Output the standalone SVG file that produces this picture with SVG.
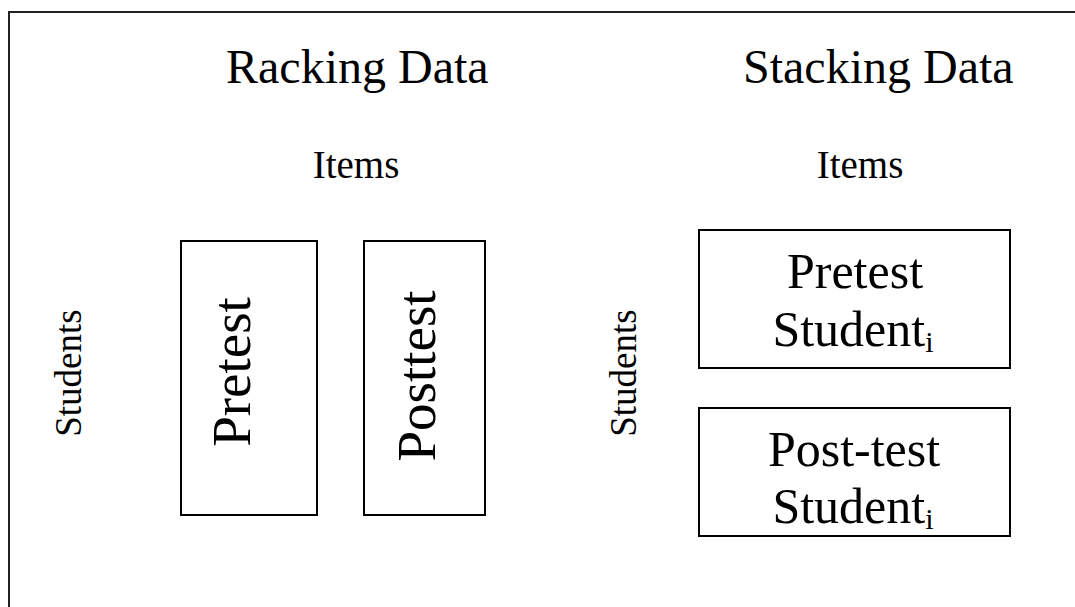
<svg xmlns="http://www.w3.org/2000/svg" width="1075" height="607" viewBox="0 0 1075 607">
<style>
text{font-family:"Liberation Serif","Times New Roman",serif;fill:#000}
.box{fill:#fff;stroke:#000;stroke-width:2}
.title{font-size:48px}
.items{font-size:39px}
.stud{font-size:37px}
.big{font-size:55px}
.mid{font-size:50px}
.sub{font-size:30px}
</style>
<rect width="1075" height="607" fill="#fff"/>
<g id="frame"><path d="M9,620 V12 H1080" fill="none" stroke="#222" stroke-width="2"/></g>
<g id="racking-title"><text class="title" x="226" y="83">Racking Data</text></g>
<g id="stacking-title"><text class="title" x="743" y="83">Stacking Data</text></g>
<g id="items-left"><text class="items" x="356" y="178" text-anchor="middle">Items</text></g>
<g id="items-right"><text class="items" x="860" y="178" text-anchor="middle">Items</text></g>
<g id="students-left"><text class="stud" transform="translate(81,373) rotate(-90)" text-anchor="middle">Students</text></g>
<g id="students-right"><text class="stud" transform="translate(636,373) rotate(-90)" text-anchor="middle">Students</text></g>
<g id="pretest-rack"><rect class="box" x="181" y="241" width="136" height="274"/><text class="big" transform="translate(250,372) rotate(-90)" text-anchor="middle">Pretest</text></g>
<g id="posttest-rack"><rect class="box" x="364" y="241" width="121" height="274"/><text class="big" transform="translate(435,376) rotate(-90)" text-anchor="middle">Posttest</text></g>
<g id="pretest-stack"><rect class="box" x="699" y="230" width="311" height="138"/><text class="mid" x="855" y="288" text-anchor="middle">Pretest</text><text class="mid" x="853" y="346" text-anchor="middle">Student<tspan class="sub" dy="6">i</tspan></text></g>
<g id="posttest-stack"><rect class="box" x="699" y="408" width="311" height="128"/><text class="mid" x="854" y="466" text-anchor="middle">Post-test</text><text class="mid" x="853" y="523" text-anchor="middle">Student<tspan class="sub" dy="6">i</tspan></text></g>
<g id="connectors"></g>
</svg>
